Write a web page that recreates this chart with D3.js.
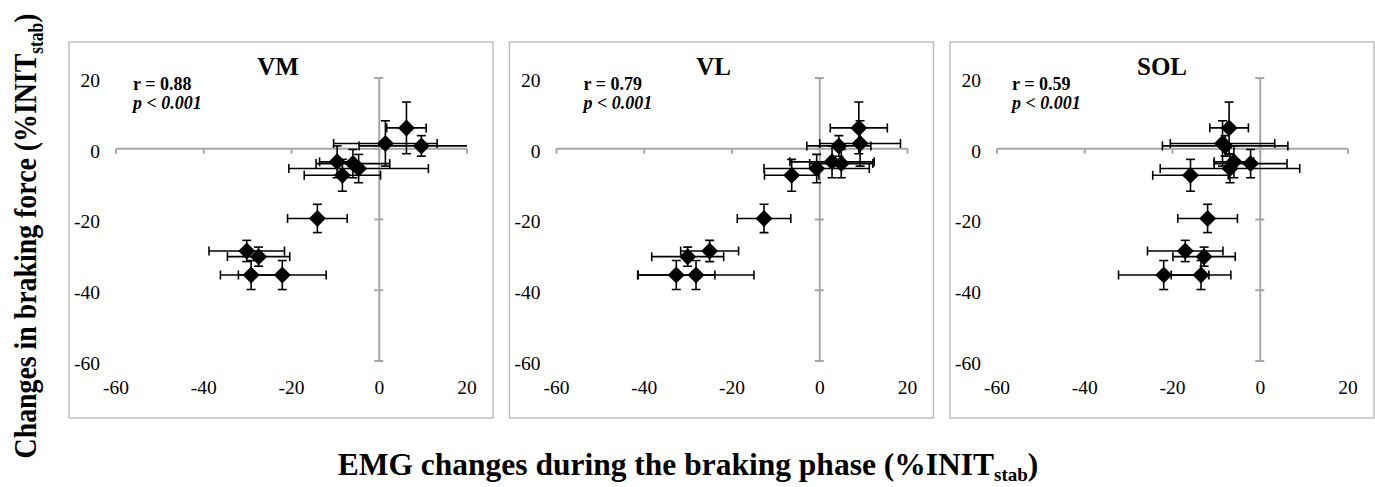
<!DOCTYPE html>
<html>
<head>
<meta charset="utf-8">
<script src="https://cdn.jsdelivr.net/npm/d3@7"></script>
<style>
  body { margin: 0; background: #fff; }
  svg text { font-family: "Liberation Serif", "Times New Roman", serif; }
</style>
</head>
<body>
<div id="chart"></div>
<script>
// shared braking-force values (y) for the 12 points
const forceY   = [5.9, 1.5, 0.8, -3.7, -4.2, -5.6, -7.5, -19.7, -28.9, -30.5, -35.7, -35.7]
const forceErr = [7.3, 6.4, 2.9, 4.5, 4.0, 4.0, 4.5, 4.0, 3.0, 2.7, 4.1, 4.1]

// EMG changes (x) per muscle
const emgVM     = [6.2, 1.4, 9.6, -9.6, -6.0, -4.7, -8.4, -14.1, -30.2, -27.5, -29.2, -22.1]
const emgVMErr  = [4.5, 11.8, 14.2, 4.0, 8.4, 15.9, 8.7, 6.8, 8.6, 7.1, 7.0, 10.0]
const emgVL     = [8.9, 9.2, 4.35, 2.8, 4.9, -0.7, -6.4, -12.7, -25.1, -30.1, -32.7, -28.2]
const emgVLErr  = [6.5, 9.2, 7.3, 9.6, 7.2, 12.0, 6.2, 6.1, 6.6, 8.2, 8.8, 13.2]
const emgSOL    = [-7.1, -8.6, -8.0, -6.0, -2.2, -6.9, -15.9, -12.0, -17.1, -12.8, -22.0, -13.5]
const emgSOLErr = [4.4, 11.9, 14.3, 4.5, 8.3, 15.9, 8.6, 6.8, 8.6, 7.1, 10.3, 6.8]

const muscles = ['VM', 'VL', 'SOL']
const rValues = ['r = 0.88', 'r = 0.79', 'r = 0.59']
const pValue = 'p < 0.001'
const xTicks = [-60, -40, -20, 0, 20]
const yTicks = [-60, -40, -20, 0, 20]

const emgX = [emgVM, emgVL, emgSOL]
const emgErr = [emgVMErr, emgVLErr, emgSOLErr]

const width = 1375, height = 487
const svg = d3.select('#chart').append('svg')
    .attr('width', width)
    .attr('height', height)

const panelLeft = [69, 509.5, 950]
const panelTop = 42, panelW = 424, panelH = 376
const rLeft = [64, 74, 62]
const titleX = [209, 204, 212]
const axisGrey = '#a6a6a6'

const y = d3.scaleLinear().domain([-60, 20]).range([361, 78])

muscles.forEach((m, i) => {
    const left = panelLeft[i]
    const x = d3.scaleLinear().domain([-60, 20]).range([left + 47, left + 398])
    const g = svg.append('g').attr('class', 'panel-' + m)

    // frame
    g.append('rect')
        .attr('x', left).attr('y', panelTop)
        .attr('width', panelW).attr('height', panelH)
        .attr('fill', 'none')
        .attr('stroke', '#bfbfbf')
        .attr('stroke-width', 1.5)

    // axes crossing at zero
    g.append('line')
        .attr('x1', x(-60)).attr('x2', x(20))
        .attr('y1', y(0)).attr('y2', y(0))
        .attr('stroke', axisGrey).attr('stroke-width', 2)
    g.append('line')
        .attr('x1', x(0)).attr('x2', x(0))
        .attr('y1', y(20)).attr('y2', y(-60))
        .attr('stroke', axisGrey).attr('stroke-width', 2)

    g.selectAll('line.xtick').data(xTicks).enter().append('line')
        .attr('class', 'xtick')
        .attr('x1', (d) => x(d)).attr('x2', (d) => x(d))
        .attr('y1', y(0)).attr('y2', y(0) + 5)
        .attr('stroke', axisGrey).attr('stroke-width', 2)
    g.selectAll('line.ytick').data(yTicks).enter().append('line')
        .attr('class', 'ytick')
        .attr('x1', x(0) - 5).attr('x2', x(0) + 4)
        .attr('y1', (d) => y(d)).attr('y2', (d) => y(d))
        .attr('stroke', axisGrey).attr('stroke-width', 2)

    // tick labels sit at the panel edges
    g.selectAll('text.xlab').data(xTicks).enter().append('text')
        .attr('class', 'xlab')
        .attr('x', (d) => x(d))
        .attr('y', 387)
        .attr('dy', '0.35em')
        .attr('text-anchor', 'middle')
        .attr('font-size', 19.5)
        .text((d) => d)
    g.selectAll('text.ylab').data(yTicks).enter().append('text')
        .attr('class', 'ylab')
        .attr('x', left + 31)
        .attr('y', (d) => y(d) + 2)
        .attr('dy', '0.35em')
        .attr('text-anchor', 'end')
        .attr('font-size', 19.5)
        .text((d) => d)

    // titles and stats
    g.append('text')
        .attr('x', left + titleX[i]).attr('y', 75)
        .attr('text-anchor', 'middle')
        .attr('font-size', 25).attr('font-weight', 'bold')
        .text(m)
    g.append('text')
        .attr('x', left + rLeft[i]).attr('y', 90)
        .attr('font-size', 18).attr('font-weight', 'bold')
        .text(rValues[i])
    g.append('text')
        .attr('x', left + rLeft[i]).attr('y', 109)
        .attr('font-size', 18).attr('font-weight', 'bold')
        .attr('font-style', 'italic')
        .text(pValue)

    // points
    const pts = forceY.map((fy, k) => ({
        x: emgX[i][k], xe: emgErr[i][k], y: fy, ye: forceErr[k]
    }))

    const clipId = 'clip-' + m
    svg.append('clipPath').attr('id', clipId)
        .append('rect')
        .attr('x', x(-60)).attr('y', y(20))
        .attr('width', x(20) - x(-60)).attr('height', y(-60) - y(20))

    const bars = g.append('g')
        .attr('clip-path', 'url(#' + clipId + ')')
        .attr('stroke', '#000').attr('stroke-width', 1.6)
        .selectAll('g').data(pts).enter().append('g')

    const cap = 4.5
    bars.append('line')
        .attr('x1', (d) => x(d.x - d.xe)).attr('x2', (d) => x(d.x + d.xe))
        .attr('y1', (d) => y(d.y)).attr('y2', (d) => y(d.y))
    bars.append('line')
        .attr('x1', (d) => x(d.x - d.xe)).attr('x2', (d) => x(d.x - d.xe))
        .attr('y1', (d) => y(d.y) - cap).attr('y2', (d) => y(d.y) + cap)
    bars.append('line')
        .attr('x1', (d) => x(d.x + d.xe)).attr('x2', (d) => x(d.x + d.xe))
        .attr('y1', (d) => y(d.y) - cap).attr('y2', (d) => y(d.y) + cap)
    bars.append('line')
        .attr('x1', (d) => x(d.x)).attr('x2', (d) => x(d.x))
        .attr('y1', (d) => y(d.y + d.ye)).attr('y2', (d) => y(d.y - d.ye))
    bars.append('line')
        .attr('x1', (d) => x(d.x) - cap).attr('x2', (d) => x(d.x) + cap)
        .attr('y1', (d) => y(d.y + d.ye)).attr('y2', (d) => y(d.y + d.ye))
    bars.append('line')
        .attr('x1', (d) => x(d.x) - cap).attr('x2', (d) => x(d.x) + cap)
        .attr('y1', (d) => y(d.y - d.ye)).attr('y2', (d) => y(d.y - d.ye))

    const s = 8.5
    g.append('g').selectAll('path').data(pts).enter().append('path')
        .attr('d', `M0,${-s}L${s},0L0,${s}L${-s},0Z`)
        .attr('transform', (d) => 'translate(' + x(d.x) + ',' + y(d.y) + ')')
        .attr('fill', '#000')
})

// shared axis titles
const yTitle = svg.append('text')
    .attr('transform', 'translate(36,236) rotate(-90) scale(0.87,1)')
    .attr('text-anchor', 'middle')
    .attr('font-size', 32).attr('font-weight', 'bold')
yTitle.append('tspan').text('Changes in braking force (%INIT')
yTitle.append('tspan').attr('font-size', 20).attr('dy', 7).text('stab')
yTitle.append('tspan').attr('dy', -7).text(')')

const xTitle = svg.append('text')
    .attr('x', 688).attr('y', 475)
    .attr('text-anchor', 'middle')
    .attr('font-size', 31.5).attr('font-weight', 'bold')
xTitle.append('tspan').text('EMG changes during the braking phase (%INIT')
xTitle.append('tspan').attr('font-size', 19).attr('dy', 6).text('stab')
xTitle.append('tspan').attr('dy', -6).text(')')
</script>
</body>
</html>
